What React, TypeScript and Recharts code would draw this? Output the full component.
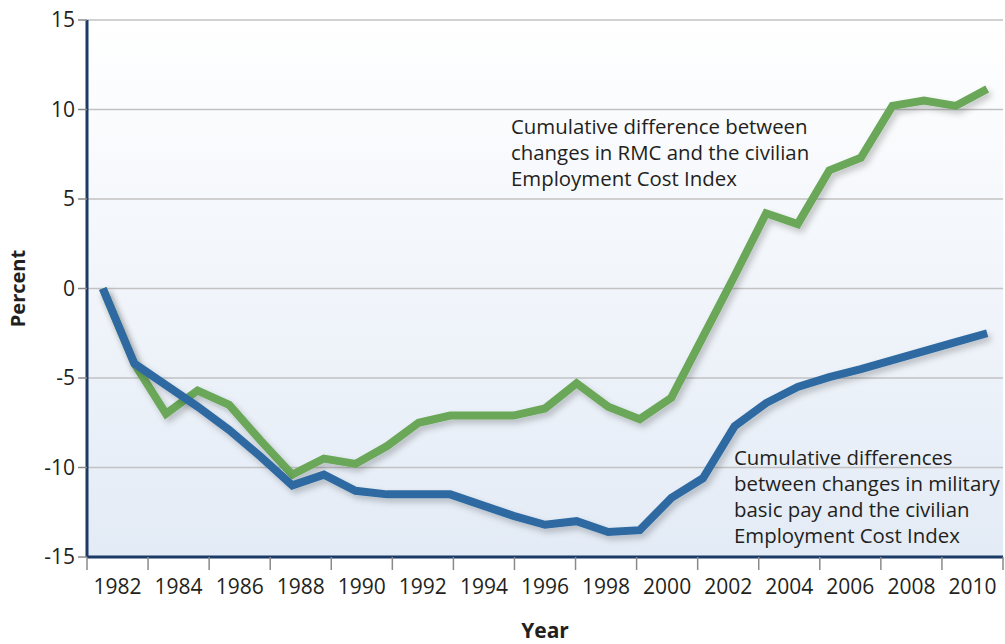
import { LineChart, Line, XAxis, YAxis, CartesianGrid } from "recharts";

// Years plotted (one point per year)
const YEARS = [
  1982, 1983, 1984, 1985, 1986, 1987, 1988, 1989, 1990, 1991,
  1992, 1993, 1994, 1995, 1996, 1997, 1998, 1999, 2000, 2001,
  2002, 2003, 2004, 2005, 2006, 2007, 2008, 2009, 2010,
];

// Cumulative difference: RMC vs civilian ECI (green)
const RMC_DIFF = [
  0, -4.2, -7.0, -5.7, -6.5, -8.5, -10.4, -9.5, -9.8, -8.8,
  -7.5, -7.1, -7.1, -7.1, -6.7, -5.3, -6.6, -7.3, -6.1, -2.7,
  0.7, 4.2, 3.6, 6.6, 7.3, 10.2, 10.5, 10.2, 11.15,
];

// Cumulative difference: military basic pay vs civilian ECI (blue)
const BASIC_PAY_DIFF = [
  0, -4.2, -5.4, -6.6, -7.9, -9.4, -11.0, -10.4, -11.3, -11.5,
  -11.5, -11.5, -12.1, -12.7, -13.2, -13.0, -13.6, -13.5, -11.7, -10.6,
  -7.7, -6.4, -5.5, -4.95, -4.5, -4.0, -3.5, -3.0, -2.5,
];

// Axis labels
const YEAR_LABELS = [
  "1982", "1984", "1986", "1988", "1990", "1992", "1994", "1996",
  "1998", "2000", "2002", "2004", "2006", "2008", "2010",
];
const Y_TICKS = [-15, -10, -5, 0, 5, 10, 15];

const GREEN = "#6aa758";
const BLUE = "#2e6ba1";
const NAVY = "#1b3a66";
const TEXT = "#231f20";
const FONT = "'Open Sans', sans-serif";

const data = YEARS.map((year, i) => ({
  year,
  rmc: RMC_DIFF[i],
  basic: BASIC_PAY_DIFF[i],
}));

// x domain: half a year of room on each side of the points
const X_MIN = YEARS[0] - 0.5;
const X_MAX = YEARS[YEARS.length - 1] + 0.5;
// the printed axis splits the width into equal bands, one per label
const band = (X_MAX - X_MIN) / YEAR_LABELS.length;
const bandTicks = YEAR_LABELS.map((_, i) => X_MIN + i * band).concat(X_MAX);
const labelTicks = YEAR_LABELS.map((_, i) => X_MIN + (i + 0.5) * band);

const labelFor = (v: number) => {
  const i = Math.round((v - X_MIN) / band - 0.5);
  return YEAR_LABELS[Math.max(0, Math.min(YEAR_LABELS.length - 1, i))];
};

const NOTE_RMC = [
  "Cumulative difference between",
  "changes in RMC and the civilian",
  "Employment Cost Index",
];
const NOTE_BASIC = [
  "Cumulative differences",
  "between changes in military",
  "basic pay and the civilian",
  "Employment Cost Index",
];

export default function App() {
  const tickStyle = { fontFamily: FONT, fontSize: 21, fill: TEXT };
  return (
    <div
      style={{
        position: "absolute",
        left: 0,
        top: 0,
        width: 1005,
        height: 644,
        background: "#fff",
        fontFamily: FONT,
      }}
    >
      <LineChart
        width={1005}
        height={644}
        data={data}
        margin={{ top: 20, right: 2, left: 0, bottom: 0 }}
      >
        <defs>
          <linearGradient id="plotBg" x1="0" y1="0" x2="0" y2="1">
            <stop offset="0%" stopColor="#ffffff" />
            <stop offset="100%" stopColor="#e3ebf6" />
          </linearGradient>
          <filter id="lineShadow" x="-10%" y="-10%" width="120%" height="130%">
            <feDropShadow dx="3" dy="4" stdDeviation="3" floodColor="#000" floodOpacity="0.22" />
          </filter>
        </defs>
        <CartesianGrid
          vertical={false}
          fill="url(#plotBg)"
          fillOpacity={1}
          stroke="#c2c2c2"
          strokeWidth={1.5}
        />
        <XAxis
          xAxisId="data"
          dataKey="year"
          type="number"
          domain={[X_MIN, X_MAX]}
          ticks={bandTicks}
          interval={0}
          allowDataOverflow
          tickFormatter={() => ""}
          tickSize={13}
          tickMargin={0}
          tickLine={{ stroke: "#8a8a8a", strokeWidth: 1.5 }}
          axisLine={{ stroke: NAVY, strokeWidth: 3 }}
          height={14}
        />
        <XAxis
          xAxisId="labels"
          dataKey="year"
          type="number"
          domain={[X_MIN, X_MAX]}
          ticks={labelTicks}
          interval={0}
          allowDataOverflow
          tickFormatter={labelFor}
          tick={tickStyle}
          tickLine={false}
          axisLine={false}
          tickSize={0}
          tickMargin={8}
          height={73}
          label={{
            value: "Year",
            position: "insideBottom",
            offset: 6,
            style: { fontFamily: FONT, fontSize: 21, fontWeight: 700, fill: TEXT },
          }}
        />
        <YAxis
          domain={[-15, 15]}
          ticks={Y_TICKS}
          interval={0}
          width={87}
          tick={tickStyle}
          tickSize={9}
          tickMargin={3}
          tickLine={{ stroke: "#8a8a8a", strokeWidth: 1.5 }}
          axisLine={{ stroke: NAVY, strokeWidth: 3 }}
          label={{
            value: "Percent",
            angle: -90,
            position: "insideLeft",
            offset: 18,
            style: { textAnchor: "middle", fontFamily: FONT, fontSize: 20, fontWeight: 700, fill: TEXT },
          }}
        />
        <Line
          xAxisId="data"
          dataKey="rmc"
          stroke={GREEN}
          strokeWidth={8}
          strokeLinejoin="miter"
          dot={false}
          activeDot={false}
          filter="url(#lineShadow)"
          isAnimationActive={false}
        />
        <Line
          xAxisId="data"
          dataKey="basic"
          stroke={BLUE}
          strokeWidth={8}
          strokeLinejoin="miter"
          dot={false}
          activeDot={false}
          filter="url(#lineShadow)"
          isAnimationActive={false}
        />
      </LineChart>
      <svg
        width={1005}
        height={644}
        style={{ position: "absolute", left: 0, top: 0, pointerEvents: "none" }}
      >
        <text x={511} y={134} fontFamily={FONT} fontSize={20.4} fill={TEXT}>
          {NOTE_RMC.map((line, i) => (
            <tspan key={i} x={511} dy={i === 0 ? 0 : 26}>
              {line}
            </tspan>
          ))}
        </text>
        <text x={734} y={465} fontFamily={FONT} fontSize={20.4} fill={TEXT}>
          {NOTE_BASIC.map((line, i) => (
            <tspan key={i} x={734} dy={i === 0 ? 0 : 26}>
              {line}
            </tspan>
          ))}
        </text>
      </svg>
    </div>
  );
}
